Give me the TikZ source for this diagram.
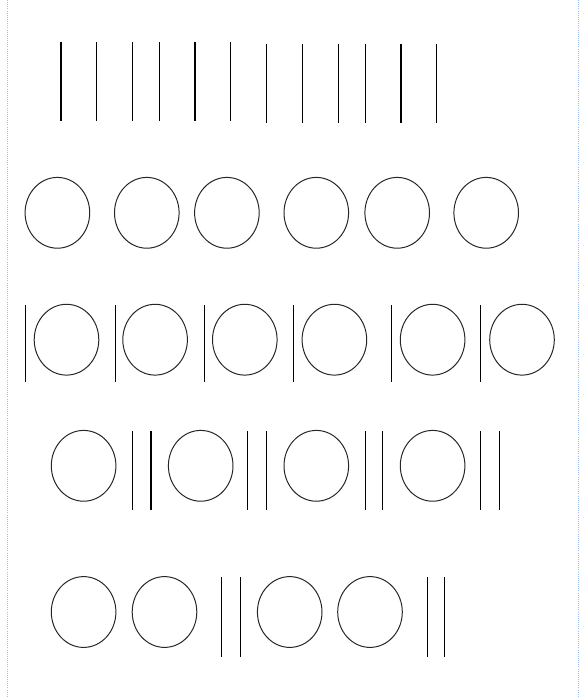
\documentclass[tikz,border=0pt]{standalone}
\tikzset{>=latex}
\definecolor{myborder}{RGB}{160,190,240}
\colorlet{mystroke}{black!85}
\tikzset{
  bar/.style={draw=black,line width=0.9pt},
  ring/.style={draw=mystroke,line width=0.85pt},
  frameline/.style={draw=myborder,line width=0.8pt,densely dotted},
}

\begin{document}
\begin{tikzpicture}[x=0.03cm,y=-0.03cm]
  \useasboundingbox (0,0) rectangle (579,697);
  % page edges
  \draw[frameline] (7.5,0) -- (7.5,697);
  \draw[frameline] (578,0) -- (578,697);
  % row 1: twelve bars
  \foreach \x in {61,96.4,132.6,159.2,195,230.8}
    \draw[bar] (\x,42) -- ++(0,79);
  \foreach \x in {266.6,302.4,338.3,365.2,401,436.9}
    \draw[bar] (\x,44) -- ++(0,79);
  % row 2: six rings
  \foreach \x in {57.4,146.8,226.9,316.3,397.2,486.2}
    \draw[ring] (\x,212.8) ellipse [x radius=32.3, y radius=35.4];
  % row 3: bar then ring
  \foreach \x/\c in {25.1/66.5,115.6/155.1,204.6/244.8,293.6/334.4,391.4/432.6,480.4/522}
  {
    \draw[bar] (\x,305) -- (\x,382);
    \draw[ring] (\c,339.7) ellipse [x radius=32.3, y radius=35.4];
  }
  % row 4: ring then two bars
  \foreach \c/\a/\b in {83.6/132.9/151,200.7/247.8/266.6,316.3/365.2/382.2,432.6/480.4/499.3}
  {
    \draw[ring] (\c,465.8) ellipse [x radius=32.3, y radius=35.4];
    \draw[bar] (\a,431) -- (\a,510);
    \draw[bar] (\b,431) -- (\b,510);
  }
  % row 5: two rings then two bars
  \foreach \c/\d/\a/\b in {83.6/164.5/221.6/240.4,289.7/370/427.6/444.6}
  {
    \draw[ring] (\c,612) ellipse [x radius=32.3, y radius=35.4];
    \draw[ring] (\d,612) ellipse [x radius=32.3, y radius=35.4];
    \draw[bar] (\a,577) -- (\a,657);
    \draw[bar] (\b,577) -- (\b,657);
  }
\end{tikzpicture}
\end{document}
